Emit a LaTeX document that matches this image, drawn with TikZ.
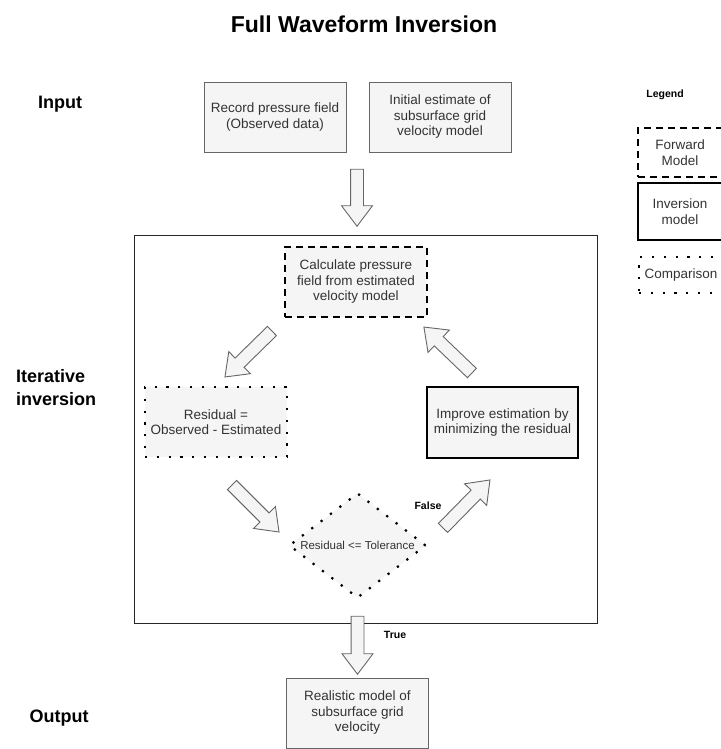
\documentclass[tikz,border=0pt]{standalone}
\usepackage{fontspec}
\setmainfont{Liberation Sans}
\usetikzlibrary{shapes.geometric,shapes.arrows,calc}

\definecolor{boxfill}{HTML}{F5F5F5}
\definecolor{boxline}{HTML}{666666}
\definecolor{txt}{HTML}{333333}

% block arrow between two named points: #1 name, #2 tail, #3 tip
\newcommand\blockarrow[3]{%
  \path let \p1=(#2), \p2=(#3),
    \n1={atan2(\y2-\y1,\x2-\x1)},
    \n2={veclen(\x2-\x1,\y2-\y1)}
  in node[barrow, minimum height=\n2, rotate=\n1] (#1) at ($(\p1)!0.5!(\p2)$) {};}

\begin{document}
\begin{tikzpicture}[x=1pt,y=-1pt,
  boxtext/.style={text=txt, font=\fontsize{13.5}{15.5}\selectfont, align=center},
  plainbox/.style={boxtext, draw=boxline, fill=boxfill, line width=0.8pt,
    minimum width=142pt, minimum height=70pt, inner sep=0pt},
  fwdbox/.style={plainbox, draw=black, line width=2pt, dash pattern=on 7pt off 5pt},
  invbox/.style={plainbox, draw=black, line width=2pt},
  cmpbox/.style={plainbox, draw=black, line width=2.2pt, dash pattern=on 2.2pt off 9.6pt},
  decbox/.style={diamond, aspect=1.3, draw=black, fill=boxfill, line width=2.2pt,
    dash pattern=on 2.2pt off 9.6pt, minimum width=137pt, minimum height=105pt, inner sep=0pt},
  barrow/.style={single arrow, draw=boxline, fill=boxfill, line width=0.9pt,
    inner xsep=0pt, inner ysep=6pt, single arrow head extend=9pt, single arrow tip angle=74},
  frame/.style={draw=black!85, line width=1pt, minimum width=463pt, minimum height=388pt, inner sep=0pt},
  heading/.style={font=\bfseries\fontsize{18}{23}\selectfont, align=left, inner sep=0pt},
  small/.style={font=\bfseries\fontsize{10.5}{12}\selectfont},
  legbox/.style={boxtext, minimum width=84pt, inner sep=0pt}
]
\useasboundingbox (0,0) rectangle (720,749);

% title and row headings
\node[font=\bfseries\fontsize{23}{27}\selectfont] (title) at (364,24) {Full Waveform Inversion};
\node[heading] (hin) at (60,104) {Input};
\node[heading, anchor=west] (hit) at (16,388) {Iterative\\inversion};
\node[heading] (hout) at (59,718) {Output};

% input row
\node[plainbox] (rec) at (275,117) {Record pressure field\\(Observed data)};
\node[plainbox] (init) at (440,117) {Initial estimate of\\subsurface grid\\velocity model};

% iteration loop
\node[frame] (loop) at (365.5,429) {};
\node[fwdbox, fill=boxfill] (calc) at (356,282) {Calculate pressure\\field from estimated\\velocity model};
\node[cmpbox] (resid) at (216,422) {Residual =\\Observed - Estimated};
\node[invbox, minimum width=151pt, minimum height=71pt] (impr) at (502.5,422.5) {Improve estimation by\\minimizing the residual};
\node[decbox, label={[text=txt, font=\fontsize{11.5}{13}\selectfont]center:Residual <= Tolerance}] (dec) at (357.5,545.5) {};

% output
\node[plainbox] (out) at (357.5,713) {Realistic model of\\subsurface grid\\velocity};

% arrow end points
\coordinate (inS) at (357,165);   \coordinate (inE) at (357,222);
\coordinate (aS) at (275,328);    \coordinate (aE) at (228,374);
\coordinate (bS) at (229,482);    \coordinate (bE) at (276,529);
\coordinate (cS) at (440,531);    \coordinate (cE) at (487,483);
\coordinate (dS) at (475,376);    \coordinate (dE) at (427,330);
\coordinate (tS) at (357.5,612);  \coordinate (tE) at (357.5,670);

\blockarrow{arrIn}{inS}{inE}
\blockarrow{arrCalcRes}{aS}{aE}
\blockarrow{arrResDec}{bS}{bE}
\blockarrow{arrDecImp}{cS}{cE}
\blockarrow{arrImpCalc}{dS}{dE}
\blockarrow{arrOut}{tS}{tE}

\node[small] (lfalse) at (428,506) {False};
\node[small] (ltrue) at (395,635) {True};

% legend
\node[small] (leg) at (665,95) {Legend};
\node[legbox, draw=black, line width=2pt, dash pattern=on 7pt off 5pt, minimum height=49pt] (lf) at (680,152.5) {Forward\\Model};
\node[legbox, draw=black, line width=2pt, minimum height=57pt] (li) at (680,211.5) {Inversion\\model};
\node[legbox, draw=black, line width=2.2pt, dash pattern=on 2.2pt off 9.6pt, minimum height=36pt] (lc) at (681,275) {Comparison};
\end{tikzpicture}
\end{document}
